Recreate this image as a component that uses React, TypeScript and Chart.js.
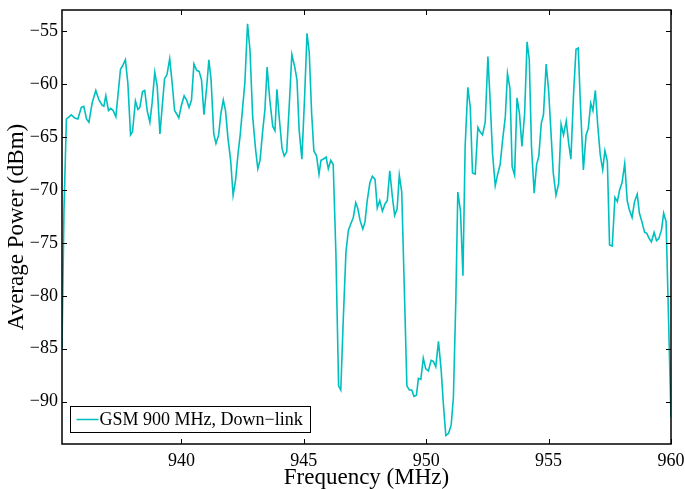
import React, { useEffect, useRef } from "react";
import { Chart, registerables } from "chart.js";

Chart.register(...registerables);

const freqMHz = [
  935.12, 935.2, 935.3, 935.5, 935.64, 935.77, 935.91, 936.01, 936.12, 936.22,
  936.35, 936.5, 936.63, 936.76, 936.83, 936.91, 937.02, 937.11, 937.21, 937.32,
  937.51, 937.61, 937.71, 937.81, 937.92, 938.0, 938.12, 938.22, 938.3, 938.41,
  938.5, 938.6, 938.71, 938.8, 938.91, 939.01, 939.12, 939.31, 939.41, 939.52,
  939.62, 939.72, 939.8, 939.89, 940.0, 940.11, 940.21, 940.31, 940.41, 940.51,
  940.62, 940.72, 940.82, 940.92, 941.03, 941.12, 941.21, 941.32, 941.41, 941.52,
  941.61, 941.71, 941.8, 941.9, 942.01, 942.11, 942.21, 942.31, 942.4, 942.5,
  942.59, 942.7, 942.8, 942.91, 943.03, 943.12, 943.21, 943.32, 943.41, 943.5,
  943.61, 943.73, 943.82, 943.9, 944.0, 944.11, 944.2, 944.3, 944.4, 944.51,
  944.63, 944.72, 944.81, 944.92, 945.03, 945.13, 945.22, 945.32, 945.41, 945.52,
  945.62, 945.7, 945.79, 945.91, 946.0, 946.1, 946.2, 946.31, 946.42, 946.51,
  946.61, 946.72, 946.82, 946.92, 947.02, 947.12, 947.2, 947.3, 947.41, 947.5,
  947.59, 947.7, 947.8, 947.91, 948.0, 948.1, 948.21, 948.32, 948.41, 948.51,
  948.62, 948.71, 948.81, 948.9, 949.0, 949.21, 949.31, 949.41, 949.5, 949.6,
  949.68, 949.78, 949.88, 949.98, 950.09, 950.2, 950.29, 950.39, 950.5, 950.61,
  950.7, 950.8, 950.91, 951.02, 951.11, 951.21, 951.29, 951.4, 951.5, 951.59,
  951.7, 951.8, 951.89, 952.0, 952.11, 952.2, 952.3, 952.41, 952.52, 952.61,
  952.71, 952.82, 952.91, 953.02, 953.12, 953.23, 953.32, 953.42, 953.51, 953.61,
  953.71, 953.81, 953.91, 954.02, 954.12, 954.21, 954.3, 954.41, 954.51, 954.6,
  954.7, 954.79, 954.9, 955.0, 955.1, 955.19, 955.3, 955.41, 955.51, 955.61,
  955.72, 955.82, 955.91, 956.02, 956.12, 956.21, 956.31, 956.42, 956.53, 956.62,
  956.72, 956.81, 956.91, 957.0, 957.11, 957.21, 957.3, 957.4, 957.49, 957.6,
  957.71, 957.81, 957.9, 958.0, 958.11, 958.21, 958.3, 958.41, 958.51, 958.62,
  958.71, 958.8, 958.92, 959.01, 959.11, 959.2, 959.31, 959.41, 959.5, 959.61,
  959.7, 959.8, 960.0,
];

const powerDbm = [
  -85.0, -72.0, -63.3, -62.9, -63.2, -63.3, -62.2, -62.1, -63.3, -63.6,
  -61.8, -60.6, -61.5, -62.0, -62.1, -61.1, -62.5, -62.3, -62.5, -63.1,
  -58.6, -58.2, -57.7, -59.9, -64.8, -64.5, -61.6, -62.4, -62.2, -60.7,
  -60.6, -62.5, -63.6, -61.8, -58.9, -60.2, -64.7, -59.5, -59.1, -57.6,
  -59.9, -62.5, -62.8, -63.2, -62.0, -61.1, -61.5, -62.2, -61.5, -58.1,
  -58.7, -58.8, -59.6, -62.9, -60.3, -57.7, -59.6, -64.7, -65.6, -64.8,
  -62.8, -61.5, -62.5, -65.1, -67.2, -70.5, -69.1, -66.6, -64.8, -62.2,
  -59.9, -54.3, -56.8, -63.1, -66.2, -68.0, -67.2, -64.4, -62.4, -58.4,
  -61.5, -64.0, -64.4, -60.5, -63.3, -66.1, -66.8, -66.4, -62.2, -57.2,
  -58.4, -59.6, -64.4, -67.1, -61.3, -55.2, -57.0, -62.8, -66.3, -66.8,
  -68.5, -67.2, -67.1, -66.9, -68.0, -67.2, -67.6, -76.0, -88.5, -88.9,
  -82.3, -75.9, -73.8, -73.2, -72.6, -71.2, -71.7, -72.9, -73.7, -73.0,
  -71.0, -69.3, -68.7, -69.0, -71.7, -71.0, -72.0, -71.3, -71.0, -68.2,
  -70.7, -72.4, -71.8, -68.6, -70.2, -88.5, -88.9, -88.9, -89.5, -89.4,
  -87.8, -87.9, -85.9, -86.9, -87.1, -86.1, -86.2, -86.7, -84.3, -87.0,
  -90.2, -93.2, -93.0, -92.2, -89.6, -80.4, -70.2, -72.0, -78.1, -65.9,
  -60.3, -62.2, -68.4, -68.5, -64.1, -64.5, -64.8, -63.6, -57.4, -61.5,
  -66.6, -69.6, -68.6, -67.6, -65.3, -63.1, -59.0, -60.4, -67.8, -68.6,
  -61.3, -62.8, -65.9, -62.8, -56.0, -57.7, -65.9, -70.3, -67.6, -66.8,
  -63.7, -62.9, -58.1, -60.6, -64.7, -68.4, -70.5, -69.4, -63.8, -64.8,
  -63.5, -65.6, -67.1, -60.9, -56.7, -56.6, -62.5, -68.1, -64.8, -64.2,
  -61.8, -62.5, -60.6, -63.7, -66.7, -68.1, -66.3, -67.3, -75.2, -75.3,
  -70.7, -71.1, -70.0, -69.3, -67.5, -71.0, -71.9, -72.6, -71.1, -70.4,
  -72.2, -72.9, -74.0, -74.1, -74.6, -74.9, -74.0, -74.8, -74.6, -73.8,
  -72.2, -73.0, -91.5,
];

const xTicks = [940, 945, 950, 955, 960];
const yTicks = [-90, -85, -80, -75, -70, -65, -60, -55];
const xRange = [935.12, 960];
const yRange = [-94, -53];
const seriesLabel = "GSM 900 MHz, Down\u2212link";
const xTitle = "Frequency (MHz)";
const yTitle = "Average Power (dBm)";

const LINE_COLOR = "#00BFBF";
const FONT = "'Liberation Serif', 'Times New Roman', serif";

const fmt = (v: number) => (v < 0 ? "\u2212" + Math.abs(v) : String(v));

const framePlugin = {
  id: "matlabFrame",
  afterDraw(chart: any) {
    const { ctx, chartArea: a, scales } = chart;
    const L = 5;
    ctx.save();
    ctx.strokeStyle = "#000";
    ctx.lineWidth = 1;
    ctx.beginPath();
    scales.x.ticks.forEach((t: any) => {
      const px = Math.round(scales.x.getPixelForValue(t.value)) + 0.5;
      ctx.moveTo(px, a.bottom);
      ctx.lineTo(px, a.bottom - L);
      ctx.moveTo(px, a.top);
      ctx.lineTo(px, a.top + L);
    });
    scales.y.ticks.forEach((t: any) => {
      const py = Math.round(scales.y.getPixelForValue(t.value)) + 0.5;
      ctx.moveTo(a.left, py);
      ctx.lineTo(a.left + L, py);
      ctx.moveTo(a.right, py);
      ctx.lineTo(a.right - L, py);
    });
    ctx.stroke();
    ctx.lineWidth = 1.5;
    ctx.strokeRect(a.left, a.top, a.right - a.left, a.bottom - a.top);

    // legend box (bottom-left inside plot)
    const ds = chart.data.datasets[0];
    const bx = a.left + 8.5;
    const by = a.bottom - 37.5;
    const bw = 240;
    const bh = 26;
    ctx.fillStyle = "#fff";
    ctx.fillRect(bx, by, bw, bh);
    ctx.lineWidth = 1;
    ctx.strokeStyle = "#000";
    ctx.strokeRect(bx, by, bw, bh);
    const cy = by + bh / 2;
    ctx.strokeStyle = ds.borderColor;
    ctx.lineWidth = 1.5;
    ctx.beginPath();
    ctx.moveTo(bx + 6, cy);
    ctx.lineTo(bx + 28, cy);
    ctx.stroke();
    ctx.fillStyle = "#000";
    ctx.font = `18px ${FONT}`;
    ctx.textBaseline = "middle";
    ctx.textAlign = "left";
    ctx.fillText(ds.label, bx + 29, cy + 1);
    ctx.restore();
  },
};

export default function App() {
  const ref = useRef<HTMLCanvasElement | null>(null);

  useEffect(() => {
    document.body.style.margin = "0";
    const canvas = ref.current;
    if (!canvas) return;
    const chart = new Chart(canvas, {
      type: "line",
      data: {
        datasets: [
          {
            label: seriesLabel,
            data: freqMHz.map((f, i) => ({ x: f, y: powerDbm[i] })),
            borderColor: LINE_COLOR,
            backgroundColor: LINE_COLOR,
            borderWidth: 1.6,
            pointRadius: 0,
            tension: 0,
            fill: false,
          },
        ],
      },
      options: {
        responsive: false,
        animation: false,
        events: [],
        layout: { padding: { top: 10, right: 14, left: 0, bottom: 0 } },
        plugins: {
          legend: { display: false },
          tooltip: { enabled: false },
        },
        scales: {
          x: {
            type: "linear",
            min: xRange[0],
            max: xRange[1],
            afterBuildTicks: (s: any) => {
              s.ticks = xTicks.map((v) => ({ value: v }));
            },
            afterFit: (s: any) => {
              s.height = 45;
              s.paddingLeft = 0;
              s.paddingRight = 0;
            },
            grid: { display: false, drawTicks: false },
            border: { display: false },
            ticks: {
              color: "#000",
              font: { family: FONT, size: 18 },
              padding: 6,
              maxRotation: 0,
              autoSkip: false,
              callback: (v: any) => fmt(Number(v)),
            },
            title: {
              display: true,
              text: xTitle,
              color: "#000",
              font: { family: FONT, size: 23, lineHeight: 1 },
              padding: 0,
            },
          },
          y: {
            type: "linear",
            min: yRange[0],
            max: yRange[1],
            afterBuildTicks: (s: any) => {
              s.ticks = yTicks.map((v) => ({ value: v }));
            },
            afterFit: (s: any) => {
              s.width = 62;
              s.paddingTop = 0;
              s.paddingBottom = 0;
            },
            grid: { display: false, drawTicks: false },
            border: { display: false },
            ticks: {
              color: "#000",
              font: { family: FONT, size: 18 },
              padding: 4,
              autoSkip: false,
              callback: (v: any) => fmt(Number(v)),
            },
            title: {
              display: true,
              text: yTitle,
              color: "#000",
              font: { family: FONT, size: 23, lineHeight: 1 },
              padding: { top: 5, bottom: 0 },
            },
          },
        },
      },
      plugins: [framePlugin],
    });
    return () => chart.destroy();
  }, []);

  return (
    <div style={{ width: 685, height: 489, background: "#fff" }}>
      <canvas ref={ref} width={685} height={489} style={{ display: "block" }} />
    </div>
  );
}
